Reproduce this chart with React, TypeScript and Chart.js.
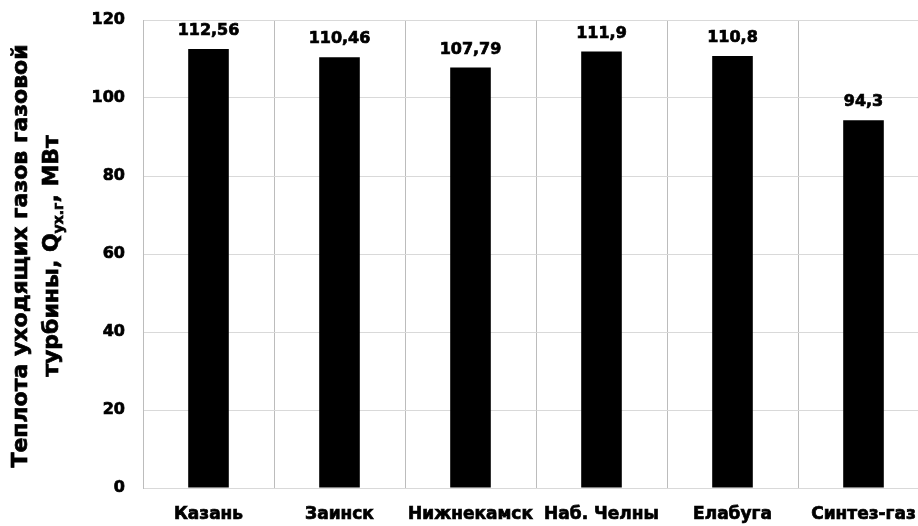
import React, { useEffect, useRef } from "react";
import { Chart, registerables } from "chart.js";

Chart.register(...registerables);

const categories = ["Казань", "Заинск", "Нижнекамск", "Наб. Челны", "Елабуга", "Синтез-газ"];
const heatValues = [112.56, 110.46, 107.79, 111.9, 110.8, 94.3];
const yTicksMin = 0;
const yTicksMax = 120;
const yTicksStep = 20;

const FONT = "'DejaVu Sans', 'Liberation Sans', Arial, sans-serif";
const STROKE = 0.7;

// Value labels above each bar, decimal comma
const valueLabels = {
  id: "valueLabels",
  afterDatasetsDraw(chart: any) {
    const { ctx } = chart;
    const meta = chart.getDatasetMeta(0);
    const data = chart.data.datasets[0].data as number[];
    ctx.save();
    ctx.font = `bold 16px ${FONT}`;
    ctx.fillStyle = "#000";
    ctx.strokeStyle = "#000";
    ctx.lineWidth = STROKE;
    ctx.textAlign = "center";
    ctx.textBaseline = "alphabetic";
    meta.data.forEach((bar: any, i: number) => {
      const text = String(data[i]).replace(".", ",");
      ctx.fillText(text, bar.x, bar.y - 14);
      ctx.strokeText(text, bar.x, bar.y - 14);
    });
    ctx.restore();
  },
};

// Two-line rotated axis title with subscript
const yAxisTitle = {
  id: "yAxisTitle",
  afterDraw(chart: any) {
    const { ctx, chartArea } = chart;
    const cy = (chartArea.top + chartArea.bottom) / 2 + 2;
    const big = `bold 22px ${FONT}`;
    const small = `bold 14px ${FONT}`;
    ctx.save();
    ctx.fillStyle = "#000";
    ctx.strokeStyle = "#000";
    ctx.lineWidth = STROKE;
    ctx.textBaseline = "middle";

    // first line
    ctx.save();
    ctx.translate(21, cy);
    ctx.rotate(-Math.PI / 2);
    ctx.font = big;
    ctx.textAlign = "center";
    ctx.fillText("Теплота уходящих газов газовой", 0, 0);
    ctx.strokeText("Теплота уходящих газов газовой", 0, 0);
    ctx.restore();

    // second line: "турбины, Q" + sub "ух.г" + ", МВт"
    const parts = [
      { t: "турбины, Q", f: big, dy: 0 },
      { t: "ух.г", f: small, dy: 7 },
      { t: ", МВт", f: big, dy: 0 },
    ];
    let total = 0;
    const widths = parts.map((p) => {
      ctx.font = p.f;
      const w = ctx.measureText(p.t).width;
      total += w;
      return w;
    });
    ctx.save();
    ctx.translate(52, cy);
    ctx.rotate(-Math.PI / 2);
    ctx.textAlign = "left";
    let x = -total / 2;
    parts.forEach((p, i) => {
      ctx.font = p.f;
      ctx.fillText(p.t, x, p.dy);
      ctx.strokeText(p.t, x, p.dy);
      x += widths[i];
    });
    ctx.restore();
    ctx.restore();
  },
};

export default function App() {
  const canvasRef = useRef<HTMLCanvasElement | null>(null);

  useEffect(() => {
    document.body.style.margin = "0";
    document.body.style.overflow = "hidden";
    const canvas = canvasRef.current;
    if (!canvas) return;
    const chart = new Chart(canvas, {
      type: "bar",
      data: {
        labels: categories,
        datasets: [
          {
            data: heatValues,
            backgroundColor: "#000000",
            borderWidth: 0,
            barPercentage: 0.31,
            categoryPercentage: 1,
          },
        ],
      },
      options: {
        responsive: false,
        animation: false,
        layout: { padding: { top: 20, right: 6, left: 0, bottom: 0 } },
        plugins: {
          legend: { display: false },
          tooltip: { enabled: false },
        },
        scales: {
          x: {
            grid: { color: "#bcbcbc", drawTicks: false, offset: true },
            border: { color: "#d9d9d9" },
            ticks: {
              color: "#000",
              font: { family: FONT, size: 17, weight: "bold" },
              textStrokeColor: "#000",
              textStrokeWidth: STROKE,
              padding: 16,
              maxRotation: 0,
              autoSkip: false,
            },
            afterFit(scale: any) {
              scale.height = 38;
            },
          },
          y: {
            min: yTicksMin,
            max: yTicksMax,
            grid: { color: "#d9d9d9", drawTicks: false },
            border: { color: "#bcbcbc" },
            ticks: {
              stepSize: yTicksStep,
              color: "#000",
              font: { family: FONT, size: 16, weight: "bold" },
              textStrokeColor: "#000",
              textStrokeWidth: STROKE,
              padding: 18,
            },
            afterFit(scale: any) {
              scale.width = 143;
              scale.paddingTop = 10;
              scale.paddingBottom = 10;
            },
          },
        },
      },
      plugins: [valueLabels, yAxisTitle],
    });
    return () => chart.destroy();
  }, []);

  return (
    <div style={{ width: 918, height: 526, overflow: "hidden", position: "relative" }}>
      <canvas ref={canvasRef} width={935} height={526} style={{ width: 935, height: 526, display: "block" }} />
    </div>
  );
}
